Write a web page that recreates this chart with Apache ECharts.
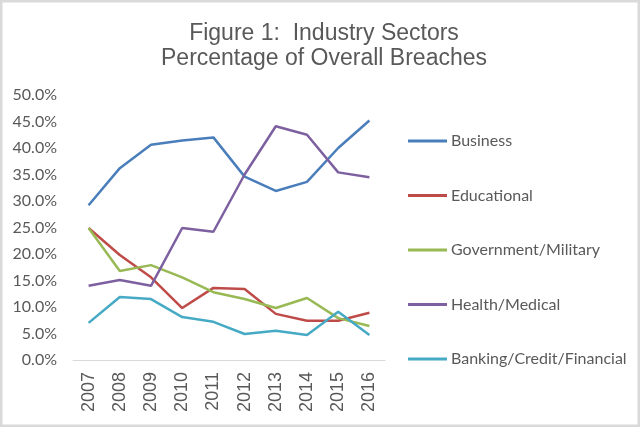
<!DOCTYPE html>
<html>
<head>
<meta charset="utf-8">
<script src="https://cdn.jsdelivr.net/npm/echarts@6/dist/echarts.min.js"></script>
<style>
html, body { margin: 0; padding: 0; background: #fff; }
#chart { width: 640px; height: 427px; }
</style>
</head>
<body>
<div id="chart"></div>
<script>
"use strict";

var years = ['2007', '2008', '2009', '2010', '2011', '2012', '2013', '2014', '2015', '2016'];
var business = [29.2, 36.2, 40.6, 41.4, 42.0, 34.6, 31.9, 33.6, 40.0, 45.2];
var educational = [24.9, 19.8, 15.6, 9.8, 13.6, 13.4, 8.7, 7.4, 7.4, 8.9];
var government = [24.9, 16.8, 17.9, 15.6, 12.8, 11.5, 9.8, 11.7, 7.9, 6.4];
var health = [14.0, 15.1, 14.0, 24.9, 24.2, 35.0, 44.1, 42.5, 35.4, 34.5];
var banking = [7.0, 11.9, 11.5, 8.1, 7.2, 4.9, 5.5, 4.7, 9.1, 4.7];
var seriesNames = ['Business', 'Educational', 'Government/Military', 'Health/Medical', 'Banking/Credit/Financial'];
var colors = ['#4a7ebb', '#be4b48', '#98b954', '#7d60a0', '#46aac5'];

function lineSeries(name, data) {
	return {
		name: name,
		type: 'line',
		data: data,
		symbol: 'none',
		lineStyle: { width: 2.5 }
	};
}

var chart = echarts.init(document.getElementById('chart'));
var option = {
	animation: false,
	color: colors,
	title: {
		text: 'Figure 1:  Industry Sectors\nPercentage of Overall Breaches',
		left: 319,
		textAlign: 'center',
		top: 16,
		textStyle: {
			fontFamily: 'Liberation Sans',
			fontSize: 23,
			fontWeight: 'normal',
			color: '#595959',
			lineHeight: 25
		}
	},
	graphic: [{
		type: 'rect',
		shape: { x: 1, y: 1, width: 638, height: 425 },
		style: { fill: 'none', stroke: '#d9d9d9', lineWidth: 3 },
		silent: true
	}],
	legend: {
		orient: 'vertical',
		left: 408,
		top: 131,
		padding: 0,
		icon: 'rect',
		itemWidth: 39,
		itemHeight: 3,
		itemGap: 34.5,
		data: seriesNames,
		textStyle: {
			fontFamily: 'Lato',
			fontSize: 16,
			color: '#595959',
			lineHeight: 20,
			padding: [0, 0, 0, -1]
		}
	},
	grid: {
		left: 73,
		right: 255,
		top: 95,
		bottom: 67
	},
	xAxis: {
		type: 'category',
		data: years,
		boundaryGap: true,
		axisLine: { lineStyle: { color: '#d9d9d9', width: 1 } },
		axisTick: { show: false },
		axisLabel: {
			rotate: 90,
			fontFamily: 'Liberation Sans',
			fontSize: 18,
			color: '#595959',
			margin: 12
		}
	},
	yAxis: {
		type: 'value',
		min: 0,
		max: 50,
		interval: 5,
		axisLine: { show: false },
		axisTick: { show: false },
		splitLine: { show: false },
		axisLabel: {
			fontFamily: 'Lato',
			fontSize: 16,
			color: '#595959',
			margin: 16,
			formatter: function (v) { return v.toFixed(1) + '%'; }
		}
	},
	series: [
		lineSeries(seriesNames[0], business),
		lineSeries(seriesNames[1], educational),
		lineSeries(seriesNames[2], government),
		lineSeries(seriesNames[3], health),
		lineSeries(seriesNames[4], banking)
	]
};
chart.setOption(option);
</script>
</body>
</html>
